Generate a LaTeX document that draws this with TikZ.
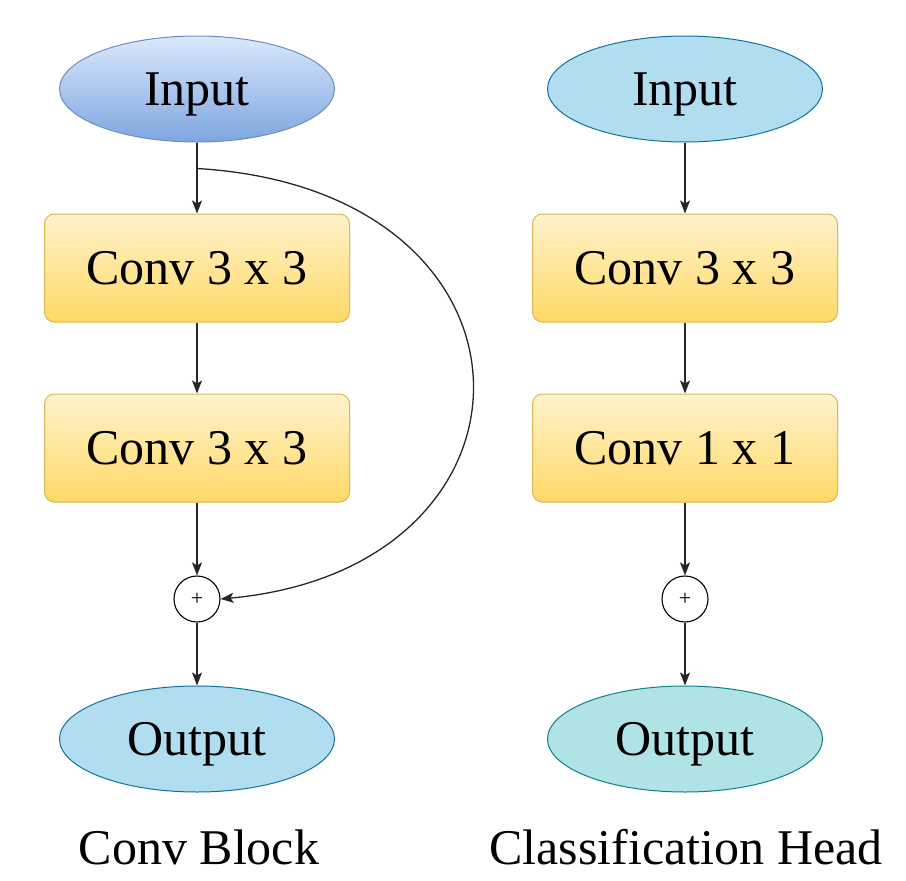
\documentclass[tikz,border=0pt]{standalone}
\usepackage{fontspec}
\setmainfont{Liberation Serif}
\usetikzlibrary{arrows.meta,shapes.geometric}
\definecolor{blueTop}{HTML}{DAE8FC}
\definecolor{blueBot}{HTML}{7EA6E0}
\definecolor{blueLine}{HTML}{6C8EBF}
\definecolor{yelTop}{HTML}{FFF2CC}
\definecolor{yelBot}{HTML}{FFD966}
\definecolor{yelLine}{HTML}{D6B656}
\definecolor{skyFill}{HTML}{B1DDF0}
\definecolor{skyLine}{HTML}{10739E}
\definecolor{tealFill}{HTML}{B0E3E6}
\definecolor{tealLine}{HTML}{0E8088}
\tikzset{
  bigtext/.style={font=\fontsize{50}{60}\selectfont, text height=33pt, text depth=0pt},
  ell/.style={ellipse, minimum width=275pt, minimum height=106pt, inner sep=0pt, line width=1pt, bigtext},
  convbox/.style={rectangle, rounded corners=10pt, minimum width=305pt, minimum height=108pt, inner sep=0pt,
     draw=yelLine, line width=1pt, shading=axis, top color=yelTop, bottom color=yelBot, bigtext},
  sumnode/.style={circle, draw=black, fill=white, line width=1.1pt, minimum size=46pt, inner sep=0pt, font=\fontsize{22}{24}\selectfont},
  conn/.style={draw=black!85, line width=1.3pt, -{Stealth[length=13pt,width=10pt,inset=3pt]}},
  caption/.style={bigtext, inner sep=0pt}
}
\begin{document}
\begin{tikzpicture}[x=1pt,y=-1pt]
\useasboundingbox (0,0) rectangle (906,881);
% left column
\node[ell, draw=blueLine, shading=axis, top color=blueTop, bottom color=blueBot] (inL) at (197,89) {Input};
\node[convbox] (c1L) at (197,268) {Conv 3 x 3};
\node[convbox] (c2L) at (197,448) {Conv 3 x 3};
\node[sumnode] (sL) at (197,599) {+};
\node[ell, draw=skyLine, fill=skyFill] (outL) at (197,739) {Output};
\node[caption] (capL) at (199,848) {Conv Block};
% right column
\node[ell, draw=skyLine, fill=skyFill] (inR) at (685,89) {Input};
\node[convbox] (c1R) at (685,268) {Conv 3 x 3};
\node[convbox] (c2R) at (685,448) {Conv 1 x 1};
\node[sumnode] (sR) at (685,599) {+};
\node[ell, draw=tealLine, fill=tealFill] (outR) at (685,739) {Output};
\node[caption] (capR) at (686,848) {Classification Head};
% connectors
\path[conn] (inL.south) -- (c1L.north);
\path[conn] (c1L.south) -- (c2L.north);
\path[conn] (c2L.south) -- (sL.north);
\path[conn] (sL.south) -- (outL.north);
\path[conn] (inR.south) -- (c1R.north);
\path[conn] (c1R.south) -- (c2R.north);
\path[conn] (c2R.south) -- (sR.north);
\path[conn] (sR.south) -- (outR.north);
\path[conn] (inL.south) -- ++(0,26) .. controls (560,190) and (560,568) .. (sL.east);
\end{tikzpicture}
\end{document}
